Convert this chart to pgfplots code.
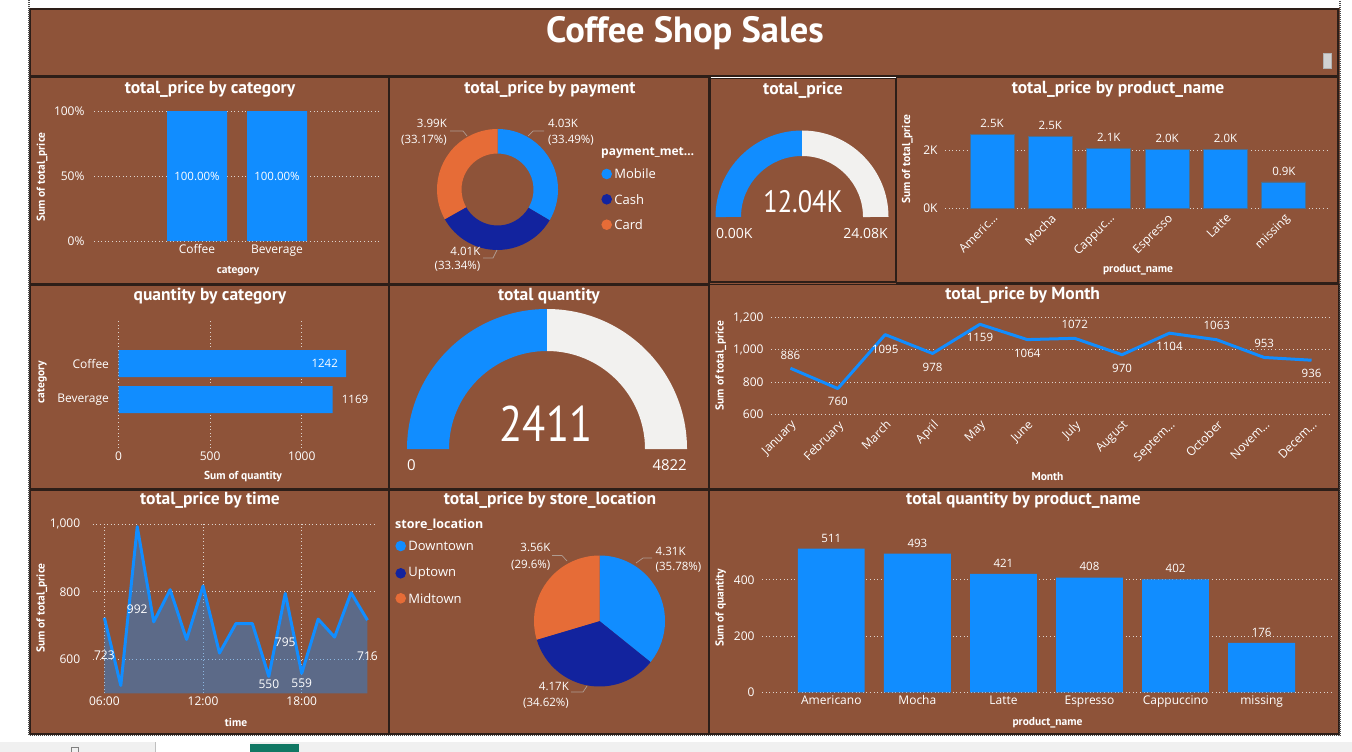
\documentclass[border=0pt]{standalone}
\usepackage{fontspec}
\setmainfont{Open Sans}
\newfontfamily\din{PT Sans}
\newfontfamily\dinc[FakeStretch=0.85]{PT Sans}
\usepackage{pgfplots}
\pgfplotsset{compat=1.18}

\definecolor{bg}{RGB}{142,83,57}
\definecolor{pbblue}{RGB}{17,141,255}
\definecolor{pbnavy}{RGB}{18,35,158}
\definecolor{pborange}{RGB}{230,108,55}
\definecolor{gaugeg}{RGB}{242,241,239}
\definecolor{edge}{RGB}{45,30,24}
\definecolor{gridc}{RGB}{222,212,206}
\definecolor{leader}{RGB}{175,155,145}
\definecolor{barline}{RGB}{80,110,140}
\definecolor{tealb}{RGB}{17,120,100}
\definecolor{strip}{RGB}{240,240,240}

\pgfplotsset{
  pbi/.style={scale only axis, anchor=south west, clip=false,
    axis line style={draw=none}, tick style={draw=none}, major tick length=0pt,
    major grid style={draw=gridc, line width=0.9pt, dash pattern=on 0.9pt off 2.7pt},
    tick label style={font=\fontsize{12}{14}\selectfont, text=white},
    yticklabel style={xshift=-4pt},
    every node near coord/.append style={font=\fontsize{11.5}{13}\selectfont, text=white, yshift=3pt}},
  round/.style={hide axis, scale only axis, anchor=south west, clip=false},
}
\tikzset{dlab/.style={font=\fontsize{11.5}{13}\selectfont, text=white, inner sep=0pt}}

% ring segment and pie wedge, angles in degrees, radii in pt (axis units = pt)
\newcommand\seg[5]{\fill[#1] (axis cs:{#4*cos(#2)},{#4*sin(#2)}) arc[start angle=#2, end angle=#3, radius=#4pt] -- (axis cs:{#5*cos(#3)},{#5*sin(#3)}) arc[start angle=#3, end angle=#2, radius=#5pt] -- cycle;}
\newcommand\wedg[4]{\fill[#1] (axis cs:0,0) -- (axis cs:{#4*cos(#2)},{#4*sin(#2)}) arc[start angle=#2, end angle=#3, radius=#4pt] -- cycle;}
\newcommand\dl[4]{\node[dlab, yshift=#3pt] at (axis cs:#1,#2) {#4};}

\newcommand\ttl[3]{\node[text=white, font=\din\bfseries\fontsize{17.5}{20}\selectfont] at (#1,#2) {#3};}
\newcommand\axl[3]{\node[text=white, font=\din\bfseries\fontsize{11.5}{13}\selectfont] at (#1,#2) {#3};}
\newcommand\axr[3]{\node[rotate=90, text=white, font=\din\bfseries\fontsize{11.5}{13}\selectfont] at (#1,#2) {#3};}
\newcommand\txt[4]{\node[anchor=#1, text=white, font=\fontsize{11.5}{13}\selectfont, inner sep=0pt] at (#2,#3) {#4};}
\newcommand\leg[4]{\fill[#1] (#2,#3) circle[radius=5.3]; \node[anchor=west, text=white, font=\fontsize{13}{15}\selectfont, inner sep=0pt] at (#2+7.5,#3) {#4};}

\begin{document}
\begin{tikzpicture}
\begin{scope}[x=1pt,y=-1pt]
\fill[white] (0,0) rectangle (1352,752);
\fill[strip] (0,742) rectangle (1352,752);
\fill[white] (156,742) rectangle (250,752);
\draw[gray!50] (155.5,742) -- (155.5,752);
\fill[tealb] (250,744) rectangle (299,752);
\draw[gray, line width=0.8] (71,747) rectangle (78,752);
\fill[bg] (29.5,8.5) rectangle (1339.5,735);
\begin{scope}[draw=edge, line width=1.8]
\draw (30,9) rectangle (1338,76);
\draw (30,77.5) rectangle (388.5,283.5);
\draw (389,77.5) rectangle (709,283.5);
\draw (710.5,78) rectangle (895.5,282);
\draw (896.5,77.5) rectangle (1338,283);
\draw (30,285) rectangle (388.5,488.5);
\draw (389,285) rectangle (709,488.5);
\draw (709.5,284.5) rectangle (1339,488.5);
\draw (30,490) rectangle (388.5,734);
\draw (389,490) rectangle (709,734);
\draw (709.5,490) rectangle (1339,734);
\end{scope}
\draw[white, line width=1.5] (710.5,77.5) -- (895.5,77.5);
\draw[black!70, line width=1.2, dash pattern=on 1pt off 1pt] (29,0) -- (29,735.5) -- (1340,735.5) -- (1340,0);
\fill[gray!35, draw=gray!60] (1323.5,53.5) rectangle (1331.5,68);
\end{scope}

% total_price by category
\begin{axis}[pbi, at={(94pt,-241pt)}, width=288pt, height=130pt, ybar, bar width=60pt,
  xmin=-1.2875, xmax=2.3125, ymin=0, ymax=100, ytick={0,50,100}, yticklabels={0\%,50\%,100\%},
  xtick={0,1}, xticklabels={Coffee,Beverage}, ymajorgrids, yticklabel style={xshift=-2pt}]
\addplot[fill=pbblue, draw=none] coordinates {(0,100) (1,100)};
\node[dlab] at (axis cs:0,50) {100.00\%};
\node[dlab] at (axis cs:1,50) {100.00\%};
\end{axis}

% total_price by payment (donut)
\begin{axis}[round, at={(437pt,-250pt)}, width=121pt, height=121pt, xmin=-60.5, xmax=60.5, ymin=-60.5, ymax=60.5]
\seg{pbblue}{90}{90-3.6*33.49}{60.5}{36}
\seg{pbnavy}{90-3.6*33.49}{90-3.6*(33.49+33.34)}{60.5}{36}
\seg{pborange}{90-3.6*(33.49+33.34)}{-270}{60.5}{36}
\end{axis}

% total_price gauge
\begin{axis}[round, at={(715.5pt,-217pt)}, width=173pt, height=86.5pt, xmin=-86.5, xmax=86.5, ymin=0, ymax=86.5]
\seg{pbblue}{180}{180-180*(12.04/24.08)}{86.5}{61}
\seg{gaugeg}{180-180*(12.04/24.08)}{0}{86.5}{61}
\end{axis}

% total_price by product_name
\begin{axis}[pbi, at={(945pt,-208pt)}, width=385pt, height=87pt, ybar, bar width=44pt,
  xmin=-0.805, xmax=5.79, ymin=0, ymax=3000, ytick={0,2000}, yticklabels={0K,2K},
  xtick={0,1,2,3,4,5}, xticklabels={Americ…,Mocha,Cappuc…,Espresso,Latte,missing},
  xticklabel style={rotate=45, anchor=north east}, ymajorgrids]
\addplot[fill=pbblue, draw=barline, line width=0.8pt, nodes near coords, point meta=explicit symbolic]
  coordinates {(0,2550) [2.5K] (1,2480) [2.5K] (2,2060) [2.1K] (3,2030) [2.0K] (4,2010) [2.0K] (5,900) [0.9K]};
\end{axis}

% quantity by category
\begin{axis}[pbi, at={(118.5pt,-448pt)}, width=238.2pt, height=129pt, xbar, bar width=27pt,
  xmin=0, xmax=1300, ymin=-1.347, ymax=2.236, xtick={0,500,1000}, xticklabels={0,500,1000},
  ytick={0,1}, yticklabels={Beverage,Coffee}, xmajorgrids, yticklabel style={xshift=-2pt}]
\addplot[fill=pbblue, draw=none] coordinates {(1169,0) (1242,1)};
\node[dlab, anchor=east, xshift=-8pt] at (axis cs:1242,1) {1242};
\node[dlab, anchor=west, xshift=9pt] at (axis cs:1169,0) {1169};
\end{axis}

% total quantity gauge
\begin{axis}[round, at={(407pt,-449pt)}, width=280pt, height=140pt, xmin=-140, xmax=140, ymin=0, ymax=140]
\seg{pbblue}{180}{180-180*(2411/4822)}{140}{98}
\seg{gaugeg}{180-180*(2411/4822)}{0}{140}{98}
\end{axis}

% total_price by Month
\begin{axis}[pbi, at={(771pt,-414.3pt)}, width=559pt, height=96.6pt,
  xmin=-0.41, xmax=11.39, ymin=600, ymax=1200, ytick={600,800,1000,1200}, yticklabels={600,800,{1,000},{1,200}},
  xtick={0,1,2,3,4,5,6,7,8,9,10,11}, xticklabels={January,February,March,April,May,June,July,August,Septem…,October,Novem…,Decem…},
  xticklabel style={rotate=45, anchor=north east}, ymajorgrids]
\addplot[pbblue, line width=3pt, line join=round] coordinates {(0,886) (1,760) (2,1095) (3,978) (4,1159) (5,1064) (6,1072) (7,970) (8,1104) (9,1063) (10,953) (11,936)};
\dl{0}{886}{13}{886}
\dl{1}{760}{-13}{760}
\dl{2}{1095}{-15}{1095}
\dl{3}{978}{-14}{978}
\dl{4}{1159}{-13.5}{1159}
\dl{5}{1064}{-14}{1064}
\dl{6}{1072}{14}{1072}
\dl{7}{970}{-14}{970}
\dl{8}{1104}{-13.5}{1104}
\dl{9}{1063}{14}{1063}
\dl{10}{953}{14}{953}
\dl{11}{936}{-13}{936}
\end{axis}

% total_price by time
\begin{axis}[pbi, at={(92.7pt,-693.3pt)}, width=284pt, height=169.3pt,
  xmin=5.29, xmax=22.56, ymin=500, ymax=1000, ytick={600,800,1000}, yticklabels={600,800,{1,000}},
  xtick={6,12,18}, xticklabels={06:00,12:00,18:00}, ymajorgrids, xmajorgrids, yticklabel style={xshift=-5pt}]
\addplot[fill=pbblue, fill opacity=0.4, draw=none] coordinates {(6,500) (6,723) (7,523) (8,992) (9,711) (10,806) (11,659) (12,817) (13,619) (14,706) (15,706) (16,550) (17,795) (18,559) (19,719) (20,666) (21,797) (22,716) (22,500)};
\addplot[pbblue, line width=3pt, line join=round] coordinates {(6,723) (7,523) (8,992) (9,711) (10,806) (11,659) (12,817) (13,619) (14,706) (15,706) (16,550) (17,795) (18,559) (19,719) (20,666) (21,797) (22,716)};
\node[dlab, font=\fontsize{12}{14}\selectfont] at (axis cs:6,613) {723};
\node[dlab, font=\fontsize{12}{14}\selectfont] at (axis cs:8,749) {992};
\node[dlab, font=\fontsize{12}{14}\selectfont] at (axis cs:17,651) {795};
\node[dlab, font=\fontsize{12}{14}\selectfont] at (axis cs:16,527.5) {550};
\node[dlab, font=\fontsize{12}{14}\selectfont] at (axis cs:18,530) {559};
\node[dlab, font=\fontsize{12}{14}\selectfont] at (axis cs:22,611) {716};
\end{axis}

% total_price by store_location (pie)
\begin{axis}[round, at={(534pt,-686.5pt)}, width=131pt, height=131pt, xmin=-65.5, xmax=65.5, ymin=-65.5, ymax=65.5]
\wedg{pbblue}{90}{90-3.6*35.78}{65.5}
\wedg{pbnavy}{90-3.6*35.78}{90-3.6*(35.78+34.62)}{65.5}
\wedg{pborange}{90-3.6*(35.78+34.62)}{-270}{65.5}
\end{axis}

% total quantity by product_name
\begin{axis}[pbi, at={(762pt,-692.3pt)}, width=570.2pt, height=157.4pt, ybar, bar width=66.8pt,
  xmin=-0.805, xmax=5.82, ymin=0, ymax=560, ytick={0,200,400}, yticklabels={0,200,400},
  xtick={0,1,2,3,4,5}, xticklabels={Americano,Mocha,Latte,Espresso,Cappuccino,missing}, ymajorgrids]
\addplot[fill=pbblue, draw=none, nodes near coords, point meta=explicit symbolic]
  coordinates {(0,511) [511] (1,493) [493] (2,421) [421] (3,408) [408] (4,402) [402] (5,176) [176]};
\end{axis}

\begin{scope}[x=1pt,y=-1pt]
\node[text=white, font=\din\bfseries\fontsize{36.5}{42}\selectfont, anchor=base] at (685,43) {Coffee Shop Sales};
\ttl{210}{89}{total\_price by category}
\ttl{550}{89}{total\_price by payment}
\ttl{803}{90}{total\_price}
\ttl{1118}{89}{total\_price by product\_name}
\ttl{210}{296}{quantity by category}
\ttl{549}{296}{total quantity}
\ttl{1022.7}{295}{total\_price by Month}
\ttl{210}{500.7}{total\_price by time}
\ttl{550}{500.7}{total\_price by store\_location}
\ttl{1023.5}{500.7}{total quantity by product\_name}
\axl{238}{271.5}{category}
\axr{42}{177}{Sum of total\_price}
\axl{1138}{270}{product\_name}
\axr{907.3}{159}{Sum of total\_price}
\axl{243}{477}{Sum of quantity}
\axr{42}{382}{category}
\axl{1047.5}{477}{Month}
\axr{720.7}{365.7}{Sum of total\_price}
\axl{236}{722}{time}
\axr{41.7}{608}{Sum of total\_price}
\axl{1047.5}{722.3}{product\_name}
\axr{720.7}{608}{Sum of quantity}
% donut labels and legend
\draw[leader, line width=0.7] (528,136) -- (533,131) -- (544,131);
\draw[leader, line width=0.7] (467,136) -- (463,131) -- (450,131);
\draw[leader, line width=0.7] (497,250) -- (493,258) -- (483,258);
\txt{west}{548}{123.3}{4.03K}
\txt{west}{548}{140}{(33.49\%)}
\txt{east}{447}{123.3}{3.99K}
\txt{east}{447}{140}{(33.17\%)}
\txt{east}{480.5}{251.7}{4.01K}
\txt{east}{480.5}{266.7}{(33.34\%)}
\node[anchor=west, text=white, font=\bfseries\fontsize{12}{14}\selectfont, inner sep=0pt] at (601,153.3) {payment\_met…};
\leg{pbblue}{606.7}{174}{Mobile}
\leg{pbnavy}{606.7}{199.3}{Cash}
\leg{pborange}{606.7}{224.7}{Card}
% gauges
\node[text=white, font=\dinc\fontsize{31}{34}\selectfont] at (803,202) {12.04K};
\node[anchor=west, inner sep=0pt, text=white, font=\fontsize{14}{16}\selectfont] at (716,234) {0.00K};
\node[anchor=east, inner sep=0pt, text=white, font=\fontsize{14}{16}\selectfont] at (888,234) {24.08K};
\node[text=white, font=\dinc\fontsize{50}{54}\selectfont] at (546,424) {2411};
\node[anchor=west, inner sep=0pt, text=white, font=\fontsize{15}{17}\selectfont] at (407,465) {0};
\node[anchor=east, inner sep=0pt, text=white, font=\fontsize{15}{17}\selectfont] at (687,465) {4822};
% pie labels and legend
\draw[leader, line width=0.7] (636,563) -- (643,558) -- (652,558);
\draw[leader, line width=0.7] (567,561) -- (562,555.5) -- (552,555.5);
\draw[leader, line width=0.7] (587,686) -- (583,692) -- (571,692);
\txt{west}{655.5}{551.7}{4.31K}
\txt{west}{655.5}{567.7}{(35.78\%)}
\txt{east}{550.5}{547.7}{3.56K}
\txt{east}{550.5}{565}{(29.6\%)}
\txt{east}{569}{686.7}{4.17K}
\txt{east}{569}{703.3}{(34.62\%)}
\node[anchor=west, text=white, font=\bfseries\fontsize{12.5}{14}\selectfont, inner sep=0pt] at (395,524.3) {store\_location};
\leg{pbblue}{400.7}{546}{Downtown}
\leg{pbnavy}{400.7}{573.3}{Uptown}
\leg{pborange}{400.7}{598.3}{Midtown}
\end{scope}
\pgfresetboundingbox
\path[use as bounding box] (0,0) rectangle (1352pt,-752pt);
\end{tikzpicture}
\end{document}
